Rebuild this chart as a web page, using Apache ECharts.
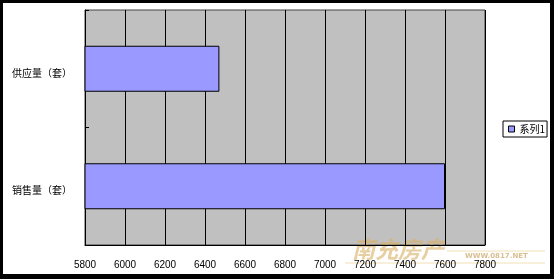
<!DOCTYPE html>
<html>
<head>
<meta charset="utf-8">
<script src="https://cdn.jsdelivr.net/npm/echarts@6/dist/echarts.min.js"></script>
<style>
html,body{margin:0;padding:0;background:#000;width:554px;height:279px;overflow:hidden;}
#c{position:absolute;left:3px;top:3px;width:547px;height:271px;background:#fff;}
</style>
</head>
<body>
<div id="c"></div>
<script>
const categories = ['销售量（套）', '供应量（套）'];
const seriesName = '系列1';
const values = [7600, 6472];
const xMin = 5800, xMax = 7800, xStep = 200;

const chart = echarts.init(document.getElementById('c'), null, {renderer: 'canvas'});
chart.setOption({
  animation: false,
  textStyle: {fontFamily: 'Liberation Sans, Arial, sans-serif'},
  grid: {
    left: 82, top: 7, width: 400, height: 235,
    show: true, backgroundColor: '#C0C0C0', borderColor: '#404040', borderWidth: 1
  },
  legend: {
    left: 500, top: 118, orient: 'vertical',
    data: [seriesName],
    itemWidth: 6, itemHeight: 6,
    icon: 'rect',
    padding: [2, 2, 2, 5],
    borderColor: '#000', borderWidth: 1, backgroundColor: '#fff',
    itemStyle: {borderColor: '#000', borderWidth: 1},
    textStyle: {fontSize: 10, color: '#000', fontFamily: 'Noto Sans CJK SC', lineHeight: 12}
  },
  xAxis: {
    type: 'value', min: xMin, max: xMax, interval: xStep,
    axisLine: {show: true, lineStyle: {color: '#000', width: 1}},
    axisTick: {show: false},
    splitLine: {show: true, lineStyle: {color: '#000', width: 1}},
    axisLabel: {fontSize: 10, color: '#000', margin: 15, fontFamily: 'Liberation Sans',
      formatter: function (v) { return String(v); }}
  },
  yAxis: {
    type: 'category', data: categories,
    axisLine: {show: true, lineStyle: {color: '#000', width: 1}},
    axisTick: {show: true, inside: true, length: 4, lineStyle: {color: '#000'}},
    splitLine: {show: false},
    axisLabel: {fontSize: 10, color: '#000', margin: 13, verticalAlign: 'top', lineHeight: 8, fontFamily: 'Noto Sans CJK SC'}
  },
  series: [{
    name: seriesName, type: 'bar', data: values, barWidth: 46,
    itemStyle: {color: '#9999FF', borderColor: '#000', borderWidth: 1}
  }],
  graphic: [
    {type: 'line', silent: true, shape: {x1: 444, y1: 248, x2: 542, y2: 248}, style: {stroke: '#f2e0b8', lineWidth: 1}},
    {type: 'line', silent: true, shape: {x1: 342, y1: 260, x2: 542, y2: 260}, style: {stroke: '#f2e0b8', lineWidth: 1}},
    {type: 'text', silent: true, left: 349, top: 235, style: {text: '南充房产', fontSize: 23, fontStyle: 'italic', fontWeight: 'bold', fontFamily: 'Noto Sans CJK SC', fill: 'rgba(215,175,100,0.6)'}},
    {type: 'text', silent: true, left: 462, top: 250, style: {text: 'WWW.0817.NET', fontSize: 7, fontWeight: 'bold', fontFamily: 'DejaVu Sans', fill: 'rgba(205,170,110,0.75)'}}
  ]
});
</script>
</body>
</html>
